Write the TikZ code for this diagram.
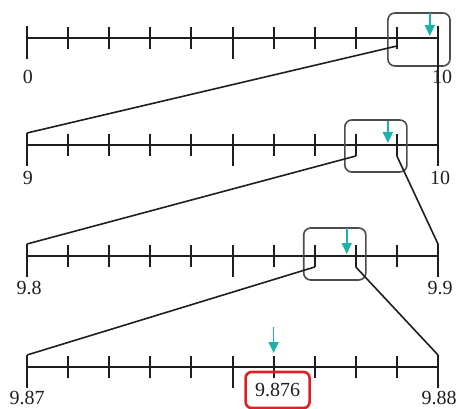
\documentclass[tikz,border=0pt]{standalone}
\usepackage{fontspec}
\setmainfont{Liberation Serif}
\usetikzlibrary{arrows.meta,calc}
\definecolor{pointercol}{RGB}{28,178,168}
\definecolor{inkgray}{RGB}{30,30,30}
\definecolor{answerred}{RGB}{224,30,36}
\begin{document}
\begin{tikzpicture}[x=1pt,y=-1pt,
    numline/.style={draw=inkgray,line width=1.5pt},
    tickmark/.style={draw=inkgray,line width=2pt},
    link/.style={draw=inkgray,line width=1.6pt},
    zoombox/.style={draw=black!70,line width=1.6pt,rounded corners=7pt},
    pointer/.style={draw=pointercol,line width=1.5pt,
      -{Triangle[width=10pt,length=11pt,fill=pointercol]}},
    numlbl/.style={font=\fontsize{20}{24}\selectfont,text=inkgray,inner sep=0pt},
    answer/.style={numlbl,draw=answerred,line width=2.6pt,rounded corners=6pt,
      minimum width=64pt,minimum height=36pt}]
  \useasboundingbox (0,0) rectangle (458,409);
  % four number lines, each one a tenfold zoom of the one above
  \foreach \r/\y in {1/38,2/145,3/256,4/367}{
    \foreach \i in {0,...,10}
      \coordinate (r\r-\i) at ({27+41.1*\i},\y);
    \draw[numline] (r\r-0) -- (r\r-10);
    \foreach \i in {1,2,3,4,6,7,8,9}
      \draw[tickmark] ($(r\r-\i)+(0,-11)$) -- ($(r\r-\i)+(0,11)$);
    \draw[tickmark] ($(r\r-5)+(0,-11)$) -- ($(r\r-5)+(0,21)$);
    \draw[tickmark] ($(r\r-0)+(0,-12)$) -- ($(r\r-0)+(0,21)$);
    \draw[tickmark] ($(r\r-10)+(0,-12)$) -- ($(r\r-10)+(0,21)$);
  }
  \node[numlbl] (lo1) at ($(r1-0)+(1,39)$) {0};
  \node[numlbl] (hi1) at ($(r1-10)+(4,39)$) {10};
  \node[numlbl] (lo2) at ($(r2-0)+(1,33)$) {9};
  \node[numlbl] (hi2) at ($(r2-10)+(2,33)$) {10};
  \node[numlbl] (lo3) at ($(r3-0)+(2,32)$) {9.8};
  \node[numlbl] (hi3) at ($(r3-10)+(2,32)$) {9.9};
  \node[numlbl] (lo4) at ($(r4-0)+(0,31)$) {9.87};
  \node[numlbl] (hi4) at ($(r4-10)+(1,31)$) {9.88};
  % zoom windows
  \draw[zoombox] ($(r1-9)+(-9,-25)$) rectangle ($(r1-10)+(12,28)$);
  \draw[zoombox] ($(r2-8)+(-11,-25)$) rectangle ($(r2-9)+(10,27)$);
  \draw[zoombox] ($(r3-7)+(-11,-28)$) rectangle ($(r3-8)+(10,24)$);
  % links down to the next line
  \draw[link] ($(r1-9)+(0,8)$) -- ($(r2-0)+(0,-12)$);
  \draw[link] ($(r1-10)+(0,21)$) -- ($(r2-10)+(0,-12)$);
  \draw[link] ($(r2-8)+(0,11)$) -- ($(r3-0)+(0,-12)$);
  \draw[link] ($(r2-9)+(0,11)$) -- ($(r3-10)+(0,-12)$);
  \draw[link] ($(r3-7)+(0,11)$) -- ($(r4-0)+(0,-12)$);
  \draw[link] ($(r3-8)+(0,11)$) -- ($(r4-10)+(0,-12)$);
  % pointers at 9.876
  \draw[pointer] ($(r1-9)!.8!(r1-10)+(0,-25)$) -- ($(r1-9)!.8!(r1-10)+(0,-2)$);
  \draw[pointer] ($(r2-8)!.78!(r2-9)+(0,-24)$) -- ($(r2-8)!.78!(r2-9)+(0,-2)$);
  \draw[pointer] ($(r3-7)!.78!(r3-8)+(0,-28)$) -- ($(r3-7)!.78!(r3-8)+(0,-2)$);
  \draw[pointer] ($(r4-6)+(0,-40)$) -- ($(r4-6)+(0,-14)$);
  \node[answer] (ans) at ($(r4-6)+(4,23)$) {9.876};
\end{tikzpicture}
\end{document}
